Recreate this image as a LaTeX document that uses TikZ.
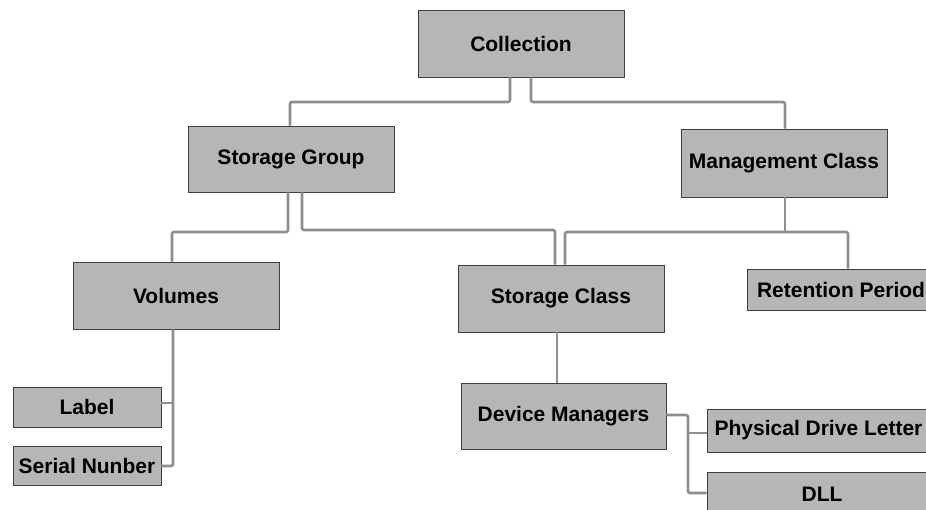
\documentclass[tikz,border=0pt]{standalone}
\usepackage{fontspec}
\setmainfont{Liberation Sans}
\begin{document}
\begin{tikzpicture}[x=1pt,y=-1pt,
  box/.style={draw=black!75, line width=0.9pt, fill=boxgray, inner sep=0pt,
    font=\fontsize{21}{24}\selectfont\bfseries, text=black},
  link/.style={draw=linkgray, line width=2.6pt, rounded corners=2pt}]
\definecolor{boxgray}{HTML}{B6B6B6}
\definecolor{linkgray}{HTML}{8E8E8E}
\useasboundingbox (0,0) rectangle (926,510);
\clip (0,0) rectangle (926,510);
% nodes
\node[box, minimum width=206pt, minimum height=67pt] (coll) at (521,43.5) {Collection};
\node[box, minimum width=206pt, minimum height=66pt] (sg) at (291,159) {Storage Group};
\node[box, minimum width=206pt, minimum height=68pt] (mc) at (784,163) {Management Class};
\node[box, minimum width=206pt, minimum height=67pt] (vol) at (176,295.5) {Volumes};
\node[box, minimum width=206pt, minimum height=67pt] (sc) at (561,298.5) {Storage Class};
\node[box, minimum width=188pt, minimum height=41pt] (rp) at (841,289.5) {Retention Period};
\node[box, minimum width=148pt, minimum height=40pt] (lab) at (87,407) {Label};
\node[box, minimum width=148pt, minimum height=39pt] (ser) at (87,465.5) {Serial Nunber};
\node[box, minimum width=205pt, minimum height=66pt] (dm) at (563.5,416) {Device Managers};
\node[box, minimum width=223pt, minimum height=43pt] (pdl) at (818.5,430.5) {Physical Drive Letter};
\node[box, minimum width=230pt, minimum height=44pt] (dll) at (822,494) {DLL};
% connectors
\draw[link] (coll.south -| 510,0) |- (290,102) -- (sg.north -| 290,0);
\draw[link] (coll.south -| 531,0) |- (785,102) -- (mc.north -| 785,0);
\draw[link] (sg.south -| 288,0) |- (172,232) -- (vol.north -| 172,0);
\draw[link] (sg.south -| 302,0) |- (555,230) -- (sc.north -| 555,0);
\draw[link] (mc.south -| 785,0) -- (785,232);
\draw[link] (sc.north -| 565,0) |- (848,232) -- (rp.north -| 848,0);
\draw[link] (vol.south -| 173,0) |- (ser.east |- 0,466);
\draw[link] (173,403) -- (lab.east |- 0,403);
\draw[link] (sc.south -| 557,0) -- (dm.north -| 557,0);
\draw[link] (dm.east |- 0,415) -| (688,493) -- (dll.west |- 0,493);
\draw[link] (688,433) -- (pdl.west |- 0,433);
\end{tikzpicture}
\end{document}
